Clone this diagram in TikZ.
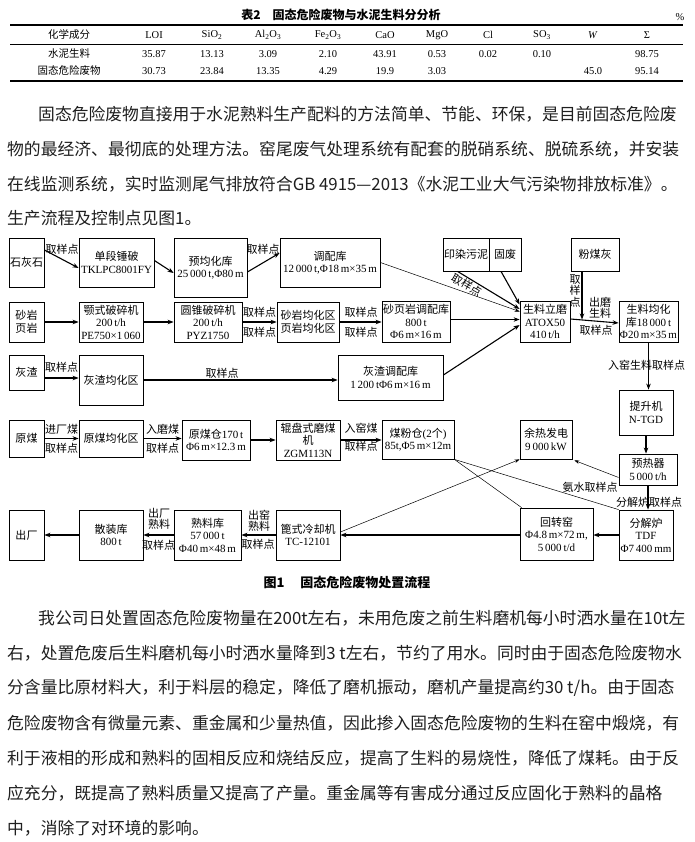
\documentclass[tikz,border=0pt]{standalone}
\usepackage{fontspec}
\setmainfont{Liberation Serif}
\newfontfamily\cj{Noto Sans CJK SC}
\usetikzlibrary{arrows.meta}
\newcommand\zh[1]{{\cj #1}}
\newcommand\bx[6]{\node[mybox,minimum width={(#4-#2)*1pt},minimum height={(#5-#3)*1pt}] (#1) at ({(#2+#4)/2},{(#3+#5)/2}) {#6};}
\begin{document}
\begin{tikzpicture}[x=1pt,y=-1pt,
 mybox/.style={draw,line width=0.8pt,inner sep=0pt,align=center,font=\fontsize{11}{12.5}\selectfont},
 lbl/.style={inner sep=0pt,align=center,font=\cj\fontsize{11}{12}\selectfont},
 arr/.style={line width=1.1pt,-{Stealth[length=6pt,width=4.5pt]}},
 thn/.style={line width=0.5pt},
 tarr/.style={line width=0.5pt,-{Stealth[length=5pt,width=3.5pt]}},
 paratxt/.style={anchor=west,inner sep=0pt,font=\cj\fontsize{16.8}{20}\selectfont,text=black!88},
 tabtxt/.style={inner sep=0pt,font=\fontsize{10.5}{11.5}\selectfont},
 captxt/.style={inner sep=0pt,font=\cj\bfseries\fontsize{12}{13}\selectfont},
 figcap/.style={inner sep=0pt,font=\cj\bfseries\fontsize{13}{14}\selectfont},
]
\useasboundingbox[fill=white] (0,0) rectangle (694,842);

% ---------- table ----------
\node[captxt] (ttl) at (341,15) {表2\hspace{1em}固态危险废物与水泥生料分分析};
\node[tabtxt] (pct) at (680,17) {\%};
\draw[line width=1.2pt] (10,25) -- (683,25);
\draw[line width=0.5pt] (10,44) -- (683,44);
\draw[line width=1.2pt] (10,81) -- (683,81);
\foreach \x/\t [count=\i] in {69/\zh{化学成分},154/LOI,212/SiO\textsubscript{2},268/Al\textsubscript{2}O\textsubscript{3},328/Fe\textsubscript{2}O\textsubscript{3},385/CaO,437/MgO,488/Cl,542/SO\textsubscript{3},593/\textit{W},647/Σ}
  \node[tabtxt] (h\i) at (\x,35) {\t};
\foreach \x/\t [count=\i] in {69/\zh{水泥生料},154/35.87,212/13.13,268/3.09,328/2.10,385/43.91,437/0.53,488/0.02,542/0.10,647/98.75}
  \node[tabtxt] (ra\i) at (\x,54) {\t};
\foreach \x/\t [count=\i] in {69/\zh{固态危险废物},154/30.73,212/23.84,268/13.35,328/4.29,385/19.9,437/3.03,593/45.0,647/95.14}
  \node[tabtxt] (rb\i) at (\x,71) {\t};

% ---------- paragraph 1 ----------
\node[paratxt] (p1a) at (38,114) {固态危险废物直接用于水泥熟料生产配料的方法简单、节能、环保，是目前固态危险废};
\node[paratxt] (p1b) at (7,149) {物的最经济、最彻底的处理方法。窑尾废气处理系统有配套的脱硝系统、脱硫系统，并安装};
\node[paratxt] (p1c) at (7,184) {在线监测系统，实时监测尾气排放符合GB 4915—2013《水泥工业大气污染物排放标准》。};
\node[paratxt] (p1d) at (7,218) {生产流程及控制点见图1。};

% ---------- boxes ----------
\bx{sh}{9}{238}{44}{287}{\zh{石灰石}}
\bx{dd}{79}{238}{154}{287}{\zh{单段锤破}\\TKLPC8001FY}
\bx{yj}{174}{238}{247}{297}{\zh{预均化库}\\25\,000\,t,Φ80\,m}
\bx{tp}{280}{238}{380}{287}{\zh{调配库}\\12\,000\,t,Φ18\,m×35\,m}
\bx{ry}{443}{238}{489}{271}{\zh{印染污泥}}
\bx{gf}{489}{238}{521}{271}{\zh{固废}}
\bx{fm}{571}{238}{619}{271}{\zh{粉煤灰}}

\bx{sy}{9}{302}{44}{342}{\zh{砂岩}\\\zh{页岩}}
\bx{ep}{79}{302}{143}{342}{\zh{颚式破碎机}\\200\,t/h\\PE750×1\,060}
\bx{yz}{174}{302}{242}{342}{\zh{圆锥破碎机}\\200\,t/h\\PYZ1750}
\bx{sj}{277}{302}{339}{342}{\zh{砂岩均化区}\\\zh{页岩均化区}}
\bx{sp}{382}{301}{450}{342}{\zh{砂页岩调配库}\\800\,t\\Φ6\,m×16\,m}
\bx{lm}{520}{301}{570}{342}{\zh{生料立磨}\\ATOX50\\410\,t/h}
\bx{jh}{619}{301}{678}{342}{\zh{生料均化}\\\zh{库}18\,000\,t\\Φ20\,m×35\,m}

\bx{hz}{9}{355}{44}{390}{\zh{灰渣}}
\bx{hj}{79}{355}{143}{405}{\zh{灰渣均化区}}
\bx{ht}{338}{355}{443}{400}{\zh{灰渣调配库}\\1\,200\,tΦ6\,m×16\,m}
\bx{ts}{619}{390}{673}{435}{\zh{提升机}\\N-TGD}

\bx{ym}{9}{420}{44}{457}{\zh{原煤}}
\bx{yh}{79}{420}{143}{457}{\zh{原煤均化区}}
\bx{yc}{182}{420}{250}{460}{\zh{原煤仓}170\,t\\Φ6\,m×12.3\,m}
\bx{gp}{276}{420}{340}{460}{\zh{辊盘式磨煤}\\\zh{机}\\ZGM113N}
\bx{mf}{382}{420}{454}{459}{\zh{煤粉仓}(2\zh{个})\\85t,Φ5\,m×12m}
\bx{yr}{520}{420}{572}{459}{\zh{余热发电}\\9\,000\,kW}
\bx{yq}{619}{454}{677}{485}{\zh{预热器}\\5\,000\,t/h}

\bx{cc}{9}{510}{44}{560}{\zh{出厂}}
\bx{sz}{79}{510}{143}{560}{\zh{散装库}\\800\,t}
\bx{sl}{174}{510}{241}{560}{\zh{熟料库}\\57\,000\,t\\Φ40\,m×48\,m}
\bx{bs}{276}{510}{340}{560}{\zh{篦式冷却机}\\TC-12101}
\bx{hy}{520}{508}{593}{560}{\zh{回转窑}\\Φ4.8\,m×72\,m,\\5\,000\,t/d}
\bx{fj}{619}{510}{673}{560}{\zh{分解炉}\\TDF\\Φ7\,400\,mm}

% ---------- connectors ----------
% row 1
\draw[arr] ([yshift=12.5pt]sh.east) -- ([yshift=-5.5pt]dd.west);
\node[lbl] (l1) at (62,249) {取样点};
\draw[arr] ([yshift=2pt]dd.east) -- ([yshift=-5.5pt]yj.west);
\draw[arr] ([yshift=-4.5pt]yj.east) -- ([yshift=9.5pt]tp.west);
\node[lbl] (l2) at (263,249) {取样点};
\draw[tarr] (tp.east) -- ([yshift=10pt]lm.west);
\draw[arr] ([xshift=-8.5pt]ry.south) -- ([yshift=12.5pt]lm.west);
\draw[arr] ([xshift=-4pt]gf.south) -- ([yshift=17pt]lm.west);
\node[lbl,rotate=-30] (l3) at (467,285) {取样点};
\coordinate (mj) at (582,319.5);
\draw[arr] ([xshift=-13pt]fm.south) -- (mj);
\node[lbl,font=\cj\fontsize{11}{11.5}\selectfont] (l4) at (575,291) {取\\样\\点};
\draw[arr] ([yshift=2.5pt]lm.east) -- ([yshift=-1.5pt]jh.west);
\node[lbl] (l5) at (600,302) {出磨};
\node[lbl] (l6) at (600,313) {生料};
\node[lbl] (l7) at (596,330) {取样点};
% row 2
\draw[arr] (sy.east) -- (sy.east -| ep.west);
\draw[arr] (ep.east) -- (ep.east -| yz.west);
\draw[arr] (yz.east) -- (yz.east -| sj.west);
\node[lbl] (l8) at (259.5,312) {取样点};
\node[lbl] (l9) at (259.5,332) {取样点};
\draw[arr] (sj.east) -- (sj.east -| sp.west);
\node[lbl] (l10) at (361,312) {取样点};
\node[lbl] (l11) at (361,332) {取样点};
\draw[arr] ([yshift=2pt]sp.east) -- ([yshift=2pt]lm.west);
% row 3
\draw[arr] ([yshift=-5.5pt]hz.east) -- ([yshift=-5.5pt]hz.east -| hj.west);
\node[lbl] (l12) at (61.5,367) {取样点};
\draw[arr] (hj.east) -- (hj.east -| ht.west);
\node[lbl] (l13) at (222,373) {取样点};
\draw[arr] ([yshift=2.5pt]ht.east) -- ([yshift=-3.5pt]lm.west);
\draw[arr] (jh.south) -- (jh.south |- ts.north);
\node[lbl] (l14) at (646.5,365) {入窑生料取样点};
\draw[arr] (ts.south) -- (ts.south |- yq.north);
\draw[arr] (yq.south) -- (yq.south |- fj.north);
\node[lbl] (l15) at (649,502) {分解炉取样点};
% row 4
\draw[arr] (ym.east) -- (ym.east -| yh.west);
\node[lbl] (l16) at (61.5,429) {进厂煤};
\node[lbl] (l17) at (61.5,448) {取样点};
\draw[arr] (yh.east) -- (yh.east -| yc.west);
\node[lbl] (l18) at (162.5,429) {入磨煤};
\node[lbl] (l19) at (162.5,448) {取样点};
\draw[arr] (yc.east) -- (yc.east -| gp.west);
\draw[arr] (gp.east) -- (gp.east -| mf.west);
\node[lbl] (l20) at (361,428) {入窑煤};
\node[lbl] (l21) at (361,446) {取样点};
\draw[thn] (mf.south east) -- ([xshift=2pt]hy.north west);
\draw[thn] (mf.south east) -- (fj.north west);
\draw[tarr] ([yshift=3pt]bs.east) -- (yr.south west);
\draw[tarr] ([yshift=-8pt]yq.west) -- ([xshift=2pt,yshift=-1pt]yr.south east);
\node[lbl] (l22) at (590,487) {氨水取样点};
% row 5
\draw[arr] (fj.west) -- (fj.west -| hy.east);
\draw[arr] ([yshift=-1pt]hy.west) -- ([yshift=-1pt]hy.west -| bs.east);
\draw[arr] (bs.west) -- (bs.west -| sl.east);
\node[lbl] (l23) at (259,515) {出窑};
\node[lbl] (l24) at (259,526) {熟料};
\node[lbl] (l25) at (258,544) {取样点};
\draw[arr] (sl.west) -- (sl.west -| sz.east);
\node[lbl] (l26) at (159,513) {出厂};
\node[lbl] (l27) at (159,524) {熟料};
\node[lbl] (l28) at (158.5,545) {取样点};
\draw[arr] (sz.west) -- (sz.west -| cc.east);

\node[figcap] (fig) at (347,583) {图1\hspace{1.2em}固态危险废物处置流程};

% ---------- paragraph 2 ----------
\node[paratxt] (p2a) at (38,618) {我公司日处置固态危险废物量在200t左右，未用危废之前生料磨机每小时洒水量在10t左};
\node[paratxt] (p2b) at (7,653) {右，处置危废后生料磨机每小时洒水量降到3 t左右，节约了用水。同时由于固态危险废物水};
\node[paratxt] (p2c) at (7,688) {分含量比原材料大，利于料层的稳定，降低了磨机振动，磨机产量提高约30 t/h。由于固态};
\node[paratxt] (p2d) at (7,723) {危险废物含有微量元素、重金属和少量热值，因此掺入固态危险废物的生料在窑中煅烧，有};
\node[paratxt] (p2e) at (7,758) {利于液相的形成和熟料的固相反应和烧结反应，提高了生料的易烧性，降低了煤耗。由于反};
\node[paratxt] (p2f) at (7,793) {应充分，既提高了熟料质量又提高了产量。重金属等有害成分通过反应固化于熟料的晶格};
\node[paratxt] (p2g) at (7,828) {中，消除了对环境的影响。};
\end{tikzpicture}
\end{document}
